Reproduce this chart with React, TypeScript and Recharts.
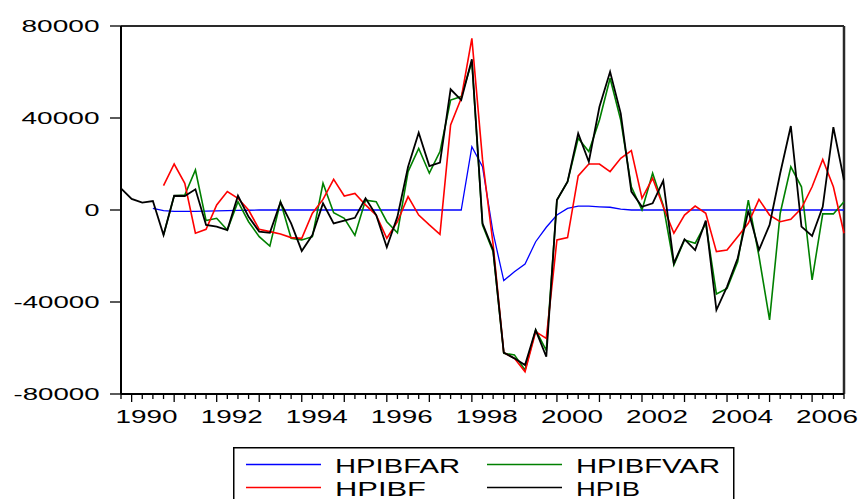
import { Legend, Line, LineChart, ReferenceLine, XAxis, YAxis } from 'recharts';

// quarterly observations 1989Q4 .. 2006Q4
const quarters: string[] = [];
for (let y = 1989; y <= 2006; y++) {
  for (let q = 1; q <= 4; q++) {
    if (y > 1989 || q === 4) quarters.push(`${y}Q${q}`);
  }
}

const yearLabels = ['1990', '1992', '1994', '1996', '1998', '2000', '2002', '2004', '2006'];
const yTicks = [-80000, -40000, 0, 40000, 80000];

const hpib = [
  9400, 4800, 3200, 3900, -10900, 6200, 6100, 9000, -6500, -7200,
  -8700, 6200, -3000, -9400, -9900, 3300, -5800, -17800, -10900, 2900,
  -5800, -4600, -3400, 5100, -2200, -16200, -2900, 18800, 33600, 19100,
  20600, 52500, 47800, 65500, -5800, -17400, -62000, -64500, -67400, -52200,
  -63800, 4300, 12300, 33300, 21000, 44900, 60100, 42000, 8000, 1400,
  2900, 12700, -23200, -12700, -17400, -4600, -43500, -33300, -21000, -300,
  -17400, -6500, 16000, 36500, -7200, -11300, 1400, 36000, 13000,
];

const hpibfvar = [
  null, null, null, null, -10900, 6200, 6500, 17400, -4600, -3600,
  -8700, 3600, -5100, -11600, -15700, 3600, -12300, -13000, -11600, 11600,
  -1200, -3600, -11000, 4300, 3600, -5100, -9900, 16700, 26800, 16000,
  25400, 47800, 49300, 64500, -6500, -18100, -62300, -63000, -69600, -52200,
  -61000, 4300, 12300, 31200, 25400, 39100, 57300, 39100, 10100, 0,
  16000, 2000, -23900, -13000, -14500, -5800, -36500, -34100, -22500, 4300,
  -20000, -47800, -1400, 18800, 10100, -30400, -1700, -1700, 3600,
];

const hpibf = [
  null, null, null, null, 10600, 20000, 11600, -10100, -8400, 2200,
  8000, 5100, 0, -8400, -9400, -10400, -12000, -12300, -1400, 4600,
  13300, 6100, 7200, 2200, -2200, -12300, -5100, 5800, -2200, -6500,
  -10600, 37000, 48600, 74600, 22000, -15000, -62000, -64500, -70300, -52900,
  -55800, -13000, -12000, 14800, 20000, 20000, 16700, 22500, 25800, 5100,
  13800, 1400, -10100, -2200, 1700, -1400, -18100, -17400, -11600, -5800,
  4600, -2200, -5100, -4000, 700, 10100, 22000, 10100, -10100,
];

const hpibfar = [
  null, null, null, 700, -300, -600, -600, -600, -500, -400,
  -300, -200, -100, 0, 0, 0, 0, 0, 0, 0,
  0, 0, 0, 0, 0, 0, 0, 0, 0, 0,
  0, 0, 0, 27500, 18800, -10000, -30700, -26800, -23500, -13800,
  -7500, -2200, 700, 1700, 1700, 1400, 1200, 400, 0, 0,
  0, 0, 0, 0, 0, 0, 0, 0, 0, 0,
  0, 0, 0, 0, 0, 0, 0, 0, 0,
];

const data = quarters.map((q, i) => ({
  q,
  hpibfar: hpibfar[i],
  hpibfvar: hpibfvar[i],
  hpibf: hpibf[i],
  hpib: hpib[i],
}));

const FONT = '"Liberation Sans", Arial, Helvetica, sans-serif';

function XTick({ x, y, payload }: any) {
  const q: string = payload.value;
  const year = q.slice(0, 4);
  const isQ1 = q.endsWith('Q1');
  return (
    <g>
      <line x1={x} y1={y} x2={x} y2={y + (isQ1 ? 8 : 5)} stroke="#000" strokeWidth={1.3} />
      {isQ1 && yearLabels.includes(year) && (
        <text x={x + 15} y={y + 22} textAnchor="middle" dominantBaseline="central" fontSize={19}
          fontFamily={FONT} fill="#000" textLength={62} lengthAdjust="spacingAndGlyphs">
          {year}
        </text>
      )}
    </g>
  );
}

function YTick({ x, y, payload }: any) {
  const label = String(payload.value);
  const w = label.length === 1 ? 15 : label.startsWith('-') ? 86 : 78;
  return (
    <g>
      <line x1={x - 11} y1={y} x2={x} y2={y} stroke="#000" strokeWidth={1.3} />
      <text x={x - 21.5} y={y} textAnchor="end" dominantBaseline="central" fontSize={17}
        fontFamily={FONT} fill="#000" textLength={w} lengthAdjust="spacingAndGlyphs">
        {label}
      </text>
    </g>
  );
}

const legendItems = [
  { name: 'HPIBFAR', color: '#0000ff', col: 0, row: 0, w: 125 },
  { name: 'HPIBFVAR', color: '#008000', col: 1, row: 0, w: 144 },
  { name: 'HPIBF', color: '#ff0000', col: 0, row: 1, w: 91 },
  { name: 'HPIB', color: '#000000', col: 1, row: 1, w: 64 },
];

function LegendBox() {
  return (
    <svg width={502} height={52} style={{ display: 'block' }}>
      <rect x={0.75} y={0.75} width={500} height={80} fill="#fff" stroke="#000" strokeWidth={1.5} />
      {legendItems.map((it) => {
        const lx = it.col === 0 ? 13 : 254;
        const ly = it.row === 0 ? 17.5 : 40.5;
        return (
          <g key={it.name}>
            <line x1={lx} y1={ly} x2={lx + 75} y2={ly} stroke={it.color} strokeWidth={1.5} />
            <text x={lx + 89} y={ly + 0.5} dominantBaseline="central" fontSize={21} fontFamily={FONT}
              fill="#000" textLength={it.w} lengthAdjust="spacingAndGlyphs">
              {it.name}
            </text>
          </g>
        );
      })}
    </svg>
  );
}

export default function App() {
  return (
    <div style={{ width: 864, height: 499, background: '#fff' }}>
      <style>{'body{margin:0;overflow:hidden;background:#fff}'}</style>
      <LineChart width={864} height={499} data={data} margin={{ top: 26, right: 20, bottom: 0, left: 0 }}>
        <XAxis dataKey="q" type="category" interval={0} height={105} tickSize={0} tickMargin={0}
          tickLine={false} tick={<XTick />} axisLine={{ stroke: '#000', strokeWidth: 2 }} />
        <YAxis domain={[-80000, 80000]} ticks={yTicks} width={121} tickSize={0} tickMargin={0}
          tickLine={false} tick={<YTick />} axisLine={{ stroke: '#000', strokeWidth: 2 }} />
        <ReferenceLine y={80000} stroke="#2a2a2a" strokeWidth={2} />
        <ReferenceLine x="2006Q4" stroke="#2a2a2a" strokeWidth={2.5} />
        <Line type="linear" dataKey="hpibfar" name="HPIBFAR" stroke="#0000ff" strokeWidth={1.3} dot={false} isAnimationActive={false} />
        <Line type="linear" dataKey="hpibfvar" name="HPIBFVAR" stroke="#008000" strokeWidth={1.6} dot={false} isAnimationActive={false} />
        <Line type="linear" dataKey="hpibf" name="HPIBF" stroke="#ff0000" strokeWidth={1.6} dot={false} isAnimationActive={false} />
        <Line type="linear" dataKey="hpib" name="HPIB" stroke="#000000" strokeWidth={1.8} dot={false} isAnimationActive={false} />
        <Legend layout="vertical" align="center" verticalAlign="middle" content={<LegendBox />}
          wrapperStyle={{ left: 233, top: 447, width: 502, height: 52 }} />
      </LineChart>
    </div>
  );
}
